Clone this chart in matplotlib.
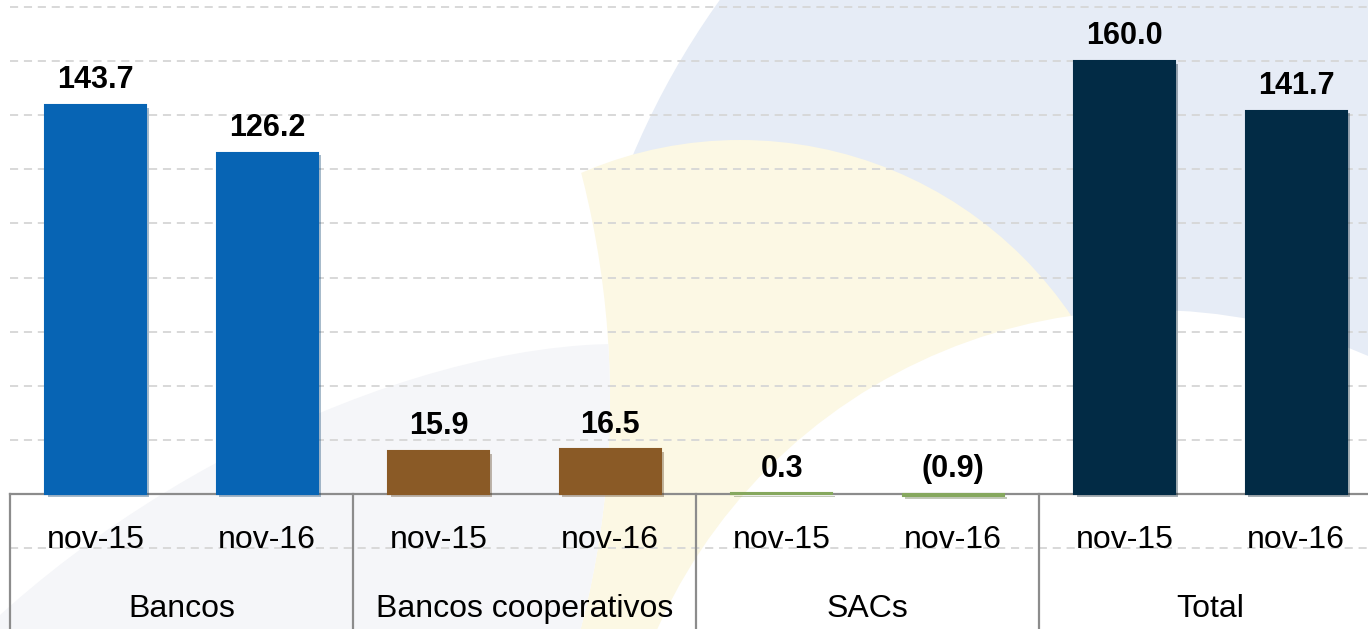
import matplotlib.pyplot as plt
import matplotlib.patheffects as pe
from matplotlib.patches import Circle, Ellipse
import numpy as np

# datos
grupos = ["Bancos", "Bancos cooperativos", "SACs", "Total"]
periodos = ["nov-15", "nov-16"]
valores = [143.7, 126.2, 15.9, 16.5, 0.3, -0.9, 160.0, 141.7]
colores_grupo = ["#0764B4", "#8A5A26", "#86A85E", "#022B45"]

plt.rcParams["font.family"] = ["Liberation Sans", "DejaVu Sans"]

fig = plt.figure(figsize=(13.68, 6.29), dpi=100)

# fondo decorativo (marca de agua de la diapositiva)
bg = fig.add_axes([0, 0, 1, 1], zorder=0)
bg.set_xlim(0, 1368)
bg.set_ylim(629, 0)
bg.axis("off")
bg.add_patch(Circle((1370, 466), 800, color="#E6ECF6", lw=0))
bg.add_patch(Circle((740, 540), 400, color="#FCF8E4", lw=0))
tapa = Circle((-300, 400), 910, color="#FFFFFF", lw=0)
bg.add_patch(tapa)
gris = Ellipse((330, 720), 1150, 560, angle=-30, color="#F5F6F9", lw=0)
bg.add_patch(gris)
gris.set_clip_path(tapa)
bg.add_patch(Circle((1150, 850), 540, color="#FFFFFF", lw=0))

ax = fig.add_axes([0, 0, 1, 1], zorder=1)
ax.patch.set_alpha(0)
px = 171.5
ax.set_xlim(-10 / px, 1358 / px)
esc = 2.706
ax.set_ylim(-(629 - 494) / esc, 494 / esc)
ax.axis("off")

x = np.arange(len(valores)) + 0.5
cols = [colores_grupo[i // 2] for i in range(len(valores))]

# lineas de cuadricula
for y in np.arange(-20, 181, 20):
    if y == 0:
        continue
    ax.plot([0, 8], [y, y], color="#D6D6D6", lw=1.3, dashes=(4.5, 3.2), zorder=1)

sombra = [pe.SimplePatchShadow(offset=(2, -2), alpha=0.35, rho=0.6), pe.Normal()]
barras = ax.bar(x, valores, width=0.59, color=cols, edgecolor=cols, lw=1.5, zorder=3)
for b in barras:
    b.set_path_effects(sombra)

for xi, v in zip(x, valores):
    txt = f"{v:.1f}" if v >= 0 else f"({abs(v):.1f})"
    ax.annotate(txt, (xi, max(v, 0)), xytext=(0, 12), textcoords="offset points",
                ha="center", va="baseline", fontsize=22, fontweight="bold", zorder=4)

# tabla de etiquetas
ax.plot([0, 8], [0, 0], color="#8C8C8C", lw=1.6, zorder=2)
for g in range(len(grupos)):
    ax.plot([2 * g, 2 * g], [0, -60], color="#8C8C8C", lw=1.6, zorder=2)
    ax.text(2 * g + 1, -42.5, grupos[g], ha="center", va="center", fontsize=23)
    for k, p in enumerate(periodos):
        ax.text(2 * g + k + 0.5, -17, p, ha="center", va="center", fontsize=23)

fig.savefig("out.png", dpi=100)
